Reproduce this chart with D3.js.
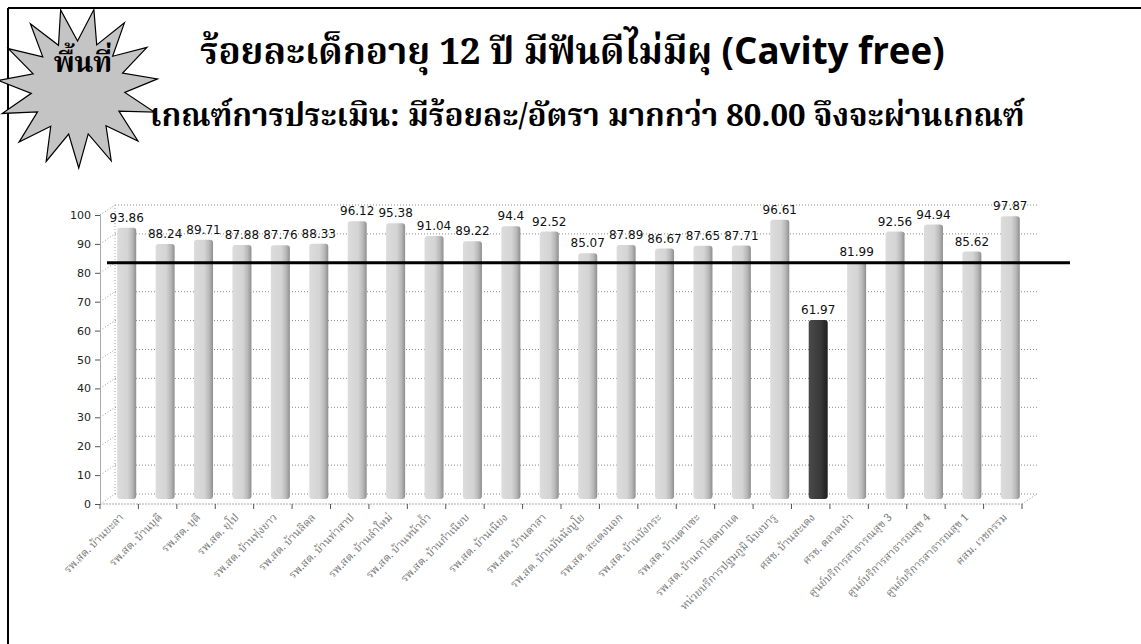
<!DOCTYPE html>
<html><head><meta charset="utf-8">
<script src="https://cdn.jsdelivr.net/npm/d3@7"></script>
<style>
html,body{margin:0;padding:0;background:#fff;}
svg{display:block;}
</style></head>
<body>
<svg id="chart" width="1141" height="644"></svg>
<script>
const categories = [
  "รพ.สต. บ้านยะลา","รพ.สต. บ้านบุดี","รพ.สต. บุดี","รพ.สต. ยุโป","รพ.สต. บ้านทุ่งยาว",
  "รพ.สต. บ้านลิดล","รพ.สต. บ้านท่าสาป","รพ.สต. บ้านลำใหม่","รพ.สต. บ้านหน้าถ้ำ","รพ.สต. บ้านกำเนียบ",
  "รพ.สต. บ้านเนียง","รพ.สต. บ้านตาสา","รพ.สต. บ้านบันนังบูโย","รพ.สต. สะเตงนอก","รพ.สต. บ้านบังกระ",
  "รพ.สต. บ้านตาเซะ","รพ.สต. บ้านกาโสดบาแด","หน่วยบริการปฐมภูมิ นิบงบารู","ศสช. บ้านสะเตง","ศรช. ตลาดเก่า",
  "ศูนย์บริการสาธารณสุข 3","ศูนย์บริการสาธารณสุข 4","ศูนย์บริการสาธารณสุข 1","ศสม. เวชกรรม"
];
const values = [93.86,88.24,89.71,87.88,87.76,88.33,96.12,95.38,91.04,89.22,94.4,92.52,85.07,87.89,86.67,87.65,87.71,96.61,61.97,81.99,92.56,94.94,85.62,97.87];
const yTicks = [0,10,20,30,40,50,60,70,80,90,100];
const targetValue = 80;
const highlighted = ["ศสช. บ้านสะเตง"];
const badgeText = "พื้นที่";
const titleThai = "ร้อยละเด็กอายุ 12 ปี มีฟันดีไม่มีผุ";
const titleLatin = "(Cavity free)";
const subtitle = "เกณฑ์การประเมิน: มีร้อยละ/อัตรา มากกว่า 80.00 จึงจะผ่านเกณฑ์";

const svg = d3.select("#chart");
const thaiFont = "'Noto Serif Thai','Norasi','Kinnari','Noto Sans Thai Looped','Noto Sans Thai','Loma','Garuda',serif";
const labelFont = "'DejaVu Sans',Verdana,sans-serif";

// defs
const defs = svg.append("defs");
const g1 = defs.append("linearGradient").attr("id","barGrad").attr("x1","0").attr("x2","1").attr("y1","0").attr("y2","0");
[["0%","#dcdcdc"],["55%","#d4d4d4"],["80%","#b8b8b8"],["100%","#8e8e8e"]].forEach(s=>g1.append("stop").attr("offset",s[0]).attr("stop-color",s[1]));
const g2 = defs.append("linearGradient").attr("id","barGradDark").attr("x1","0").attr("x2","1").attr("y1","0").attr("y2","0");
[["0%","#4a4a4a"],["60%","#3a3a3a"],["100%","#1e1e1e"]].forEach(s=>g2.append("stop").attr("offset",s[0]).attr("stop-color",s[1]));

// frame
svg.append("line").attr("x1",8).attr("y1",8).attr("x2",1141).attr("y2",8).attr("stroke","#000").attr("stroke-width",2);
svg.append("line").attr("x1",8).attr("y1",8).attr("x2",8).attr("y2",644).attr("stroke","#000").attr("stroke-width",2);

// scales
const x = d3.scaleBand().domain(categories).range([100,1022]).paddingInner(0).paddingOuter(0);
const yF = d3.scaleLinear().domain([0,100]).range([504,215]);
const DX = 15, DY = -10;
const bw = x.bandwidth();

// back wall gridlines
const grid = svg.append("g");
grid.selectAll("line.back").data(yTicks).join("line")
  .attr("x1",x.range()[0]+DX).attr("x2",x.range()[1]+DX)
  .attr("y1",d=>yF(d)+DY).attr("y2",d=>yF(d)+DY)
  .attr("stroke","#8a8a8a").attr("stroke-width",1).attr("stroke-dasharray","1,2");
grid.selectAll("line.side").data(yTicks).join("line")
  .attr("x1",x.range()[0]).attr("x2",x.range()[0]+DX)
  .attr("y1",d=>yF(d)).attr("y2",d=>yF(d)+DY)
  .attr("stroke","#9a9a9a").attr("stroke-width",1).attr("stroke-dasharray","1,2");
grid.append("line").attr("x1",x.range()[0]+DX).attr("x2",x.range()[0]+DX).attr("y1",yF(0)+DY).attr("y2",yF(100)+DY)
  .attr("stroke","#aaa").attr("stroke-dasharray","1,2");
grid.append("line").attr("x1",x.range()[1]).attr("x2",x.range()[1]+DX).attr("y1",yF(0)).attr("y2",yF(0)+DY)
  .attr("stroke","#999").attr("stroke-dasharray","1,2");

// y axis
const yAxis = d3.axisLeft(yF).tickValues(yTicks).tickSize(5).tickPadding(4);
const ya = svg.append("g").attr("transform",`translate(${x.range()[0]},0)`).call(yAxis);
ya.select(".domain").attr("stroke","#aaa");
ya.selectAll(".tick line").attr("stroke","#555");
ya.selectAll(".tick text").attr("font-family",labelFont).attr("font-size",11).attr("fill","#222");

// x axis line + ticks
const xa = svg.append("g");
xa.append("line").attr("x1",x.range()[0]).attr("x2",x.range()[1]).attr("y1",yF(0)).attr("y2",yF(0)).attr("stroke","#aaa").attr("stroke-dasharray","2,1");
const bounds = categories.map(c=>x(c)).concat([x.range()[1]]);
xa.selectAll("line.t").data(bounds).join("line")
  .attr("x1",d=>d).attr("x2",d=>d).attr("y1",yF(0)).attr("y2",yF(0)+5).attr("stroke","#555");
xa.selectAll("text").data(categories).join("text")
  .attr("transform",d=>`translate(${x(d)+bw/2+5},${yF(0)+14}) rotate(-45)`)
  .attr("text-anchor","end").attr("font-family",thaiFont).attr("font-size",11).attr("fill","#777")
  .text(d=>d);

// bars
const barW = 19;
const bars = svg.append("g");
const data = categories.map((c,i)=>({c,v:values[i]}));
bars.selectAll("rect").data(data).join("rect")
  .attr("x",d=>x(d.c)+bw/2+DX/2-barW/2)
  .attr("y",d=>yF(d.v)+DY/2)
  .attr("width",barW)
  .attr("height",d=>yF(0)-yF(d.v))
  .attr("rx",3)
  .attr("fill",d=>highlighted.includes(d.c)?"url(#barGradDark)":"url(#barGrad)");
bars.selectAll("text").data(data).join("text")
  .attr("x",d=>x(d.c)+bw/2+DX/2)
  .attr("y",d=>yF(d.v)+DY/2-6)
  .attr("text-anchor","middle").attr("font-family",labelFont).attr("font-size",12).attr("fill","#111")
  .text(d=>d3.format("")(d.v));

// target line
svg.append("line").attr("x1",107).attr("x2",1070)
  .attr("y1",yF(targetValue)+DY).attr("y2",yF(targetValue)+DY)
  .attr("stroke","#000").attr("stroke-width",3);

// titles
const t1 = svg.append("text").attr("x",200).attr("y",64).attr("font-size",36).attr("fill","#000");
t1.append("tspan").attr("font-family",thaiFont).attr("font-weight","bold").text(titleThai + " ");
t1.append("tspan").attr("font-family","'Open Sans','Noto Sans',sans-serif").attr("font-weight","bold").text(titleLatin);
const t2 = svg.append("text").attr("x",150).attr("y",126).attr("font-size",34).attr("fill","#000")
  .attr("font-family",thaiFont).attr("font-weight","bold").text(subtitle);
function fit(t, w){ const L=t.node().getComputedTextLength(); const fs=+t.attr("font-size"); t.attr("font-size",fs*w/L); }
fit(t1, 745); fit(t2, 875);

// badge star
const cx=78, cy=88, nP=15, rO=80, rI=47;
const pts = d3.range(nP*2).map(k=>{const a=-Math.PI/2+0.2+k*Math.PI/nP; const r=k%2?rI:rO; return [cx+r*Math.cos(a), cy+r*Math.sin(a)];});
svg.append("polygon").attr("points",pts.map(p=>p.join(",")).join(" "))
  .attr("fill","#c4c4c4").attr("stroke","#000").attr("stroke-width",1.2);
svg.append("text").attr("x",83).attr("y",72).attr("text-anchor","middle")
  .attr("font-family",thaiFont).attr("font-weight","bold").attr("font-size",28).attr("fill","#000").text(badgeText);
</script>
</body></html>
